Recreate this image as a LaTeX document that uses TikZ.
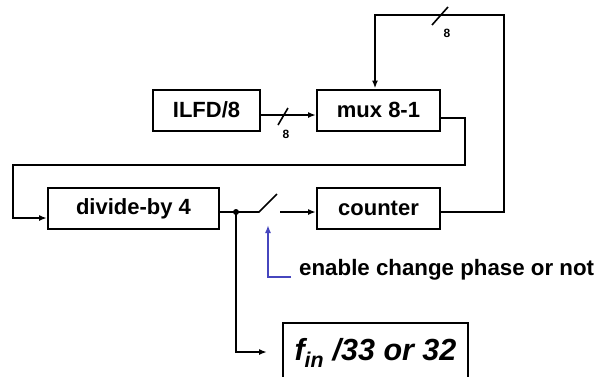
\documentclass[tikz,border=0pt]{standalone}
\usepackage{fontspec}
\setmainfont{Liberation Sans}
\usetikzlibrary{arrows.meta,positioning,calc}

\begin{document}
\begin{tikzpicture}[x=1pt,y=-1pt]
\tikzset{
  blk/.style={draw, line width=2pt, minimum height=41pt, inner sep=0pt,
    font=\bfseries\fontsize{22}{26}\selectfont},
  wire/.style={line width=1.6pt},
  arr/.style={wire, -{Latex[length=8pt,width=6pt]}},
  enarr/.style={line width=1.6pt, draw=enblue, -{Latex[length=8pt,width=6pt]}},
  buslbl/.style={font=\bfseries\fontsize{12}{14}\selectfont, inner sep=0pt}
}
\definecolor{enblue}{RGB}{70,70,190}
\useasboundingbox (0,0) rectangle (602,376);

%Blocks
\node[blk, minimum width=107pt] (ilfd) at (206.5,110) {ILFD/8};
\node[blk, minimum width=123pt] (mux) at (378.5,110) {mux 8-1};
\node[blk, minimum width=171pt] (divby) at (133.5,208.5) {divide-by 4};
\node[blk, minimum width=123pt] (counter) at (378.5,208.5) {counter};
\node[blk, minimum width=185pt, minimum height=60pt,
  font=\bfseries\itshape\fontsize{30.5}{34}\selectfont] (fout) at (375.5,353)
  {f\textsubscript{in} /33 or 32};

%Switch points
\coordinate (dot) at (236,212);
\coordinate (swa) at (259,212);
\coordinate (swb) at (277,194);
\coordinate (swc) at (280,212);
\coordinate (fin) at (267,352);
\coordinate (swtip) at (268,225);

%Bus ILFD to mux
\draw[arr] ([yshift=-5pt]ilfd.east) -- ([yshift=-5pt]mux.west);
\draw[wire] (278,125) -- (288,108);
\node[buslbl] (bus1) at (286,134) {8};

%Mux back to divide-by 4
\draw[arr] ([yshift=-8pt]mux.east) -| (465,165) -| (13,218) -- ([yshift=-9.5pt]divby.west);

%Divide-by 4 through switch to counter
\draw[wire] ([yshift=-3.5pt]divby.east) -- (dot) -- (swa) -- (swb);
\draw[arr] (swc) -- ([yshift=-3.5pt]counter.west);
\fill (dot) circle (3pt);

%Counter back to mux
\draw[arr] ([yshift=-3.5pt]counter.east) -| (504,15) -| ([xshift=-3.5pt]mux.north);
\draw[wire] (432,25) -- (448,7);
\node[buslbl] (bus2) at (447,33) {8};

%Output
\draw[arr] (dot) |- (fin);

%Enable
\node[anchor=base west, font=\bfseries\fontsize{22.3}{26}\selectfont, inner sep=0pt]
  (entxt) at (299,275) {enable change phase or not};
\draw[enarr] ([xshift=-8pt,yshift=-2pt]entxt.base west) -| (swtip);
\end{tikzpicture}
\end{document}
